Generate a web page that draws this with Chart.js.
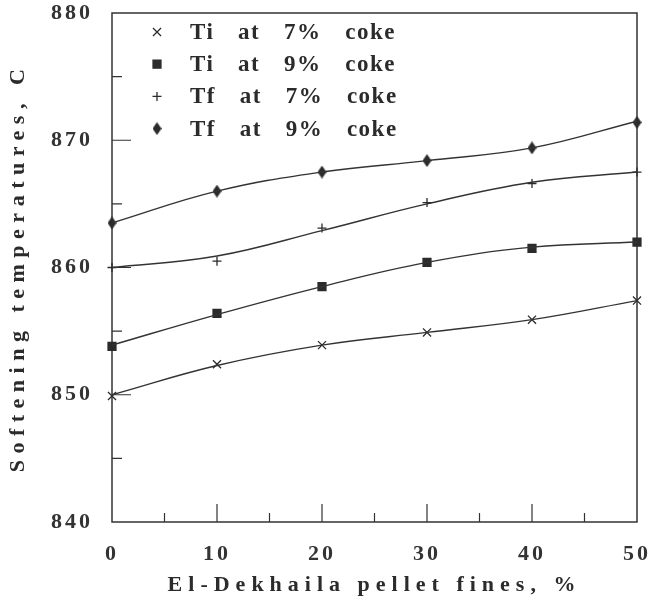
<!DOCTYPE html>
<html>
<head>
<meta charset="utf-8">
<script src="https://cdn.jsdelivr.net/npm/chart.js@4.4.0/dist/chart.umd.min.js"></script>
<style>
  html, body { margin: 0; padding: 0; background: #fff; }
  #wrap { width: 648px; height: 601px; }
</style>
</head>
<body>
<div id="wrap"><canvas id="softChart" width="648" height="601"></canvas></div>
<script>
// pellet fines, % (x axis)
const fines = [0, 10, 20, 30, 40, 50];

// measured points
const tiAt7 = [849.9, 852.4, 853.9, 854.9, 855.9, 857.4];
const tiAt9 = [853.8, 856.4, 858.5, 860.4, 861.5, 862.0];
const tfAt7 = [860.0, 860.5, 863.1, 865.1, 866.6, 867.5];
const tfAt9 = [863.5, 866.0, 867.5, 868.4, 869.4, 871.4];

// fitted curves at the same x values
const tiAt7Fit = [850.0, 852.3, 853.9, 854.9, 855.9, 857.4];
const tiAt9Fit = [853.9, 856.3, 858.5, 860.4, 861.6, 862.0];
const tfAt7Fit = [860.0, 860.9, 862.9, 865.0, 866.7, 867.5];
const tfAt9Fit = [863.5, 866.0, 867.5, 868.4, 869.4, 871.5];

const seriesLabels = ['Ti at 7% coke', 'Ti at 9% coke', 'Tf at 7% coke', 'Tf at 9% coke'];
const xTitle = 'El-Dekhaila pellet fines, %';
const yTitle = 'Softening temperatures, C';

const ink = '#2b2b2b';
const fontFamily = '"Liberation Serif", "Times New Roman", serif';

// tall diamond marker like the one in the print
function makeDiamond(w, h) {
    const c = document.createElement('canvas');
    c.width = w;
    c.height = h;
    const g = c.getContext('2d');
    g.fillStyle = ink;
    g.beginPath();
    g.moveTo(w / 2, 0);
    g.lineTo(w, h / 2);
    g.lineTo(w / 2, h);
    g.lineTo(0, h / 2);
    g.closePath();
    g.fill();
    return c;
}
const diamond = makeDiamond(9, 13);

function toPoints(ys) {
    return fines.map((x, i) => ({ x: x, y: ys[i] }));
}

function markerSet(label, ys, style, radius) {
    return {
        label: label,
        data: toPoints(ys),
        showLine: false,
        pointStyle: style,
        pointRadius: radius,
        pointHoverRadius: radius,
        pointBorderWidth: 1.3,
        pointBackgroundColor: ink,
        pointBorderColor: ink,
        clip: false,
        inLegend: true
    };
}

function curveSet(ys) {
    return {
        data: toPoints(ys),
        showLine: true,
        pointRadius: 0,
        borderColor: '#333',
        borderWidth: 1.4,
        tension: 0.4,
        fill: false
    };
}

// box, inward ticks, titles and the legend drawn by hand
const paperLook = {
    id: 'paperLook',
    beforeDraw(chart) {
        chart.ctx.letterSpacing = '3px';
    },
    beforeDatasetsDraw(chart) {
        const ctx = chart.ctx;
        const a = chart.chartArea;
        const xs = chart.scales.x;
        const ys = chart.scales.y;
        ctx.save();
        ctx.strokeStyle = '#333';
        ctx.lineWidth = 1.5;
        ctx.strokeRect(a.left, a.top, a.right - a.left, a.bottom - a.top);
        ctx.lineWidth = 1.2;
        ctx.beginPath();
        for (let v = 845; v < 880; v += 5) {
            const py = ys.getPixelForValue(v);
            const len = v % 10 === 0 ? 19 : 10;
            ctx.moveTo(a.left, py);
            ctx.lineTo(a.left + len, py);
        }
        for (let v = 5; v < 50; v += 5) {
            const px = xs.getPixelForValue(v);
            const len = v % 10 === 0 ? 18 : 9;
            ctx.moveTo(px, a.bottom);
            ctx.lineTo(px, a.bottom - len);
        }
        ctx.stroke();
        ctx.restore();
    },
    afterDraw(chart) {
        const ctx = chart.ctx;
        const a = chart.chartArea;
        ctx.save();
        ctx.fillStyle = ink;
        ctx.letterSpacing = '6px';
        ctx.font = 'bold 22px ' + fontFamily;
        ctx.textAlign = 'center';
        ctx.textBaseline = 'middle';
        ctx.fillText(xTitle, (a.left + a.right) / 2, 585);
        ctx.save();
        ctx.translate(18, (a.top + a.bottom) / 2);
        ctx.rotate(-Math.PI / 2);
        ctx.letterSpacing = '6.5px';
        ctx.fillText(yTitle, 0, 0);
        ctx.restore();

        // legend: tight letters, wide gaps between words
        ctx.letterSpacing = '1.5px';
        ctx.wordSpacing = '16.5px';
        ctx.font = 'bold 23px ' + fontFamily;
        ctx.textAlign = 'left';
        const rows = chart.data.datasets.filter(d => d.inLegend);
        rows.forEach((d, i) => {
            const y = 32 + i * 32.2;
            Chart.helpers.drawPoint(ctx, {
                pointStyle: d.pointStyle,
                radius: d.pointRadius,
                borderWidth: 1.3,
                rotation: 0
            }, 157, y);
            ctx.fillStyle = ink;
            ctx.strokeStyle = ink;
            ctx.lineWidth = 1.3;
            ctx.fillText(d.label, 190, y + 1);
        });
        ctx.wordSpacing = '0px';
        ctx.restore();
    }
};

const ctx = document.getElementById('softChart').getContext('2d');
ctx.fillStyle = ink;
ctx.strokeStyle = ink;

new Chart(ctx, {
    type: 'scatter',
    data: {
        datasets: [
            curveSet(tiAt7Fit),
            curveSet(tiAt9Fit),
            curveSet(tfAt7Fit),
            curveSet(tfAt9Fit),
            markerSet(seriesLabels[0], tiAt7, 'crossRot', 5.7),
            markerSet(seriesLabels[1], tiAt9, 'rect', 5.6),
            markerSet(seriesLabels[2], tfAt7, 'cross', 4.5),
            markerSet(seriesLabels[3], tfAt9, diamond, 6)
        ]
    },
    options: {
        responsive: false,
        devicePixelRatio: 1,
        animation: false,
        layout: { padding: { top: 13, right: 11, left: 0, bottom: 0 } },
        plugins: {
            legend: { display: false },
            tooltip: { enabled: false }
        },
        scales: {
            x: {
                type: 'linear',
                min: 0,
                max: 50,
                ticks: {
                    stepSize: 10,
                    padding: 19,
                    color: '#333',
                    font: { family: fontFamily, size: 22, weight: 'bold' }
                },
                grid: { display: false, drawTicks: false },
                border: { display: false },
                afterFit(s) {
                    s.height = 79;
                    s.paddingLeft = 0;
                    s.paddingRight = 0;
                }
            },
            y: {
                min: 840,
                max: 880,
                ticks: {
                    stepSize: 10,
                    padding: 19,
                    color: '#333',
                    font: { family: fontFamily, size: 22, weight: 'bold' }
                },
                grid: { display: false, drawTicks: false },
                border: { display: false },
                afterFit(s) {
                    s.width = 112;
                    s.paddingTop = 0;
                    s.paddingBottom = 0;
                }
            }
        }
    },
    plugins: [paperLook]
});
</script>
</body>
</html>
